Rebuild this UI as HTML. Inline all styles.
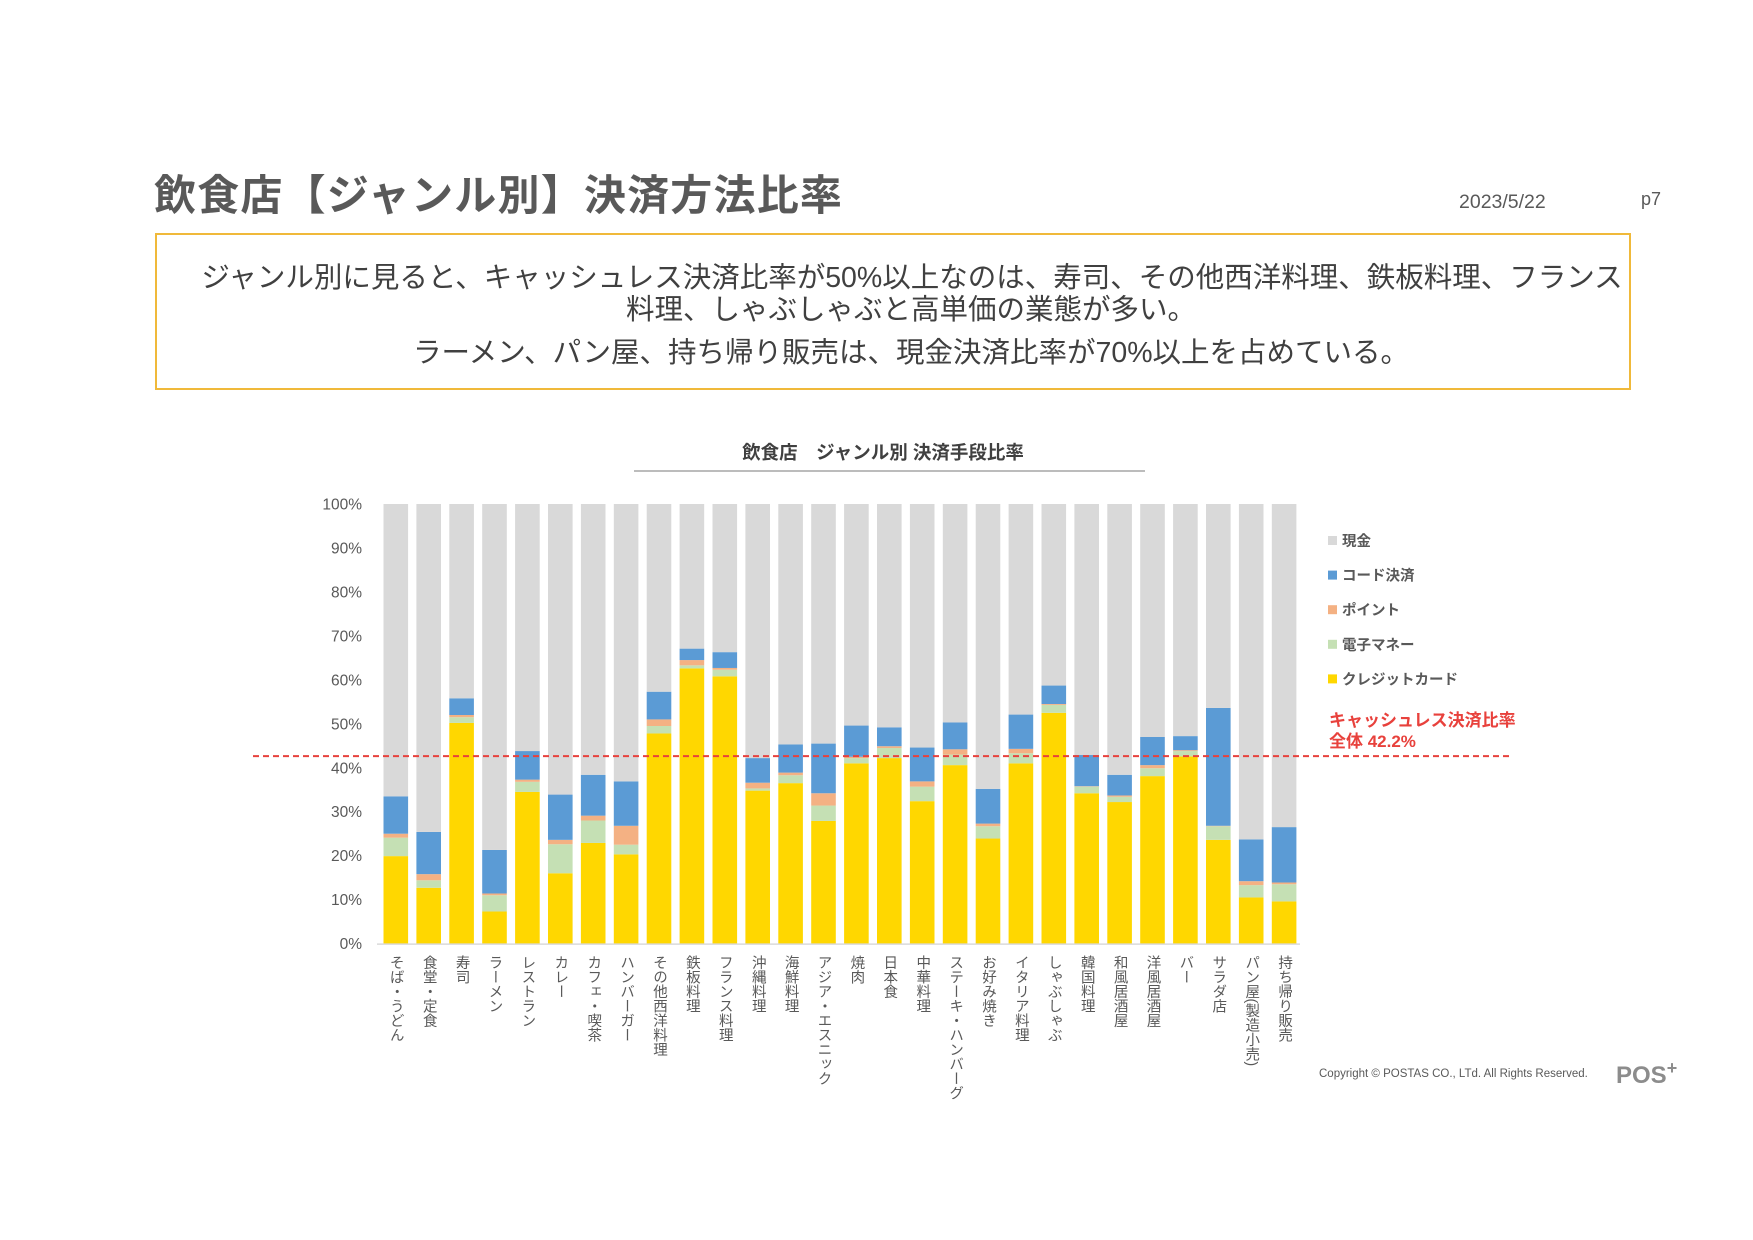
<!DOCTYPE html>
<html lang="ja"><head><meta charset="utf-8">
<style>
html,body{margin:0;padding:0;background:#fff;}
body{width:1753px;height:1240px;position:relative;overflow:hidden;font-family:"Liberation Sans","Noto Sans CJK JP",sans-serif;}
.abs{position:absolute;}
#title{left:154px;top:162px;font-size:42px;font-weight:bold;color:#595959;white-space:nowrap;letter-spacing:1.2px;}
#date{left:1459px;top:191px;font-size:19.5px;color:#595959;}
#page{left:1641px;top:189px;font-size:18px;color:#595959;}
#box{left:155px;top:233px;width:1472px;height:153px;border:2.5px solid #F0B93A;}
.line{position:absolute;left:0;width:1472px;text-align:center;font-size:28.5px;color:#404040;white-space:nowrap;}
#copy{left:1319px;top:1068px;font-size:11.5px;color:#595959;}
#logo{left:1616px;top:1058px;font-size:24px;font-weight:bold;color:#8c8c8c;}
</style></head>
<body>
<div id="title" class="abs">飲食店【ジャンル別】決済方法比率</div>
<div id="date" class="abs">2023/5/22</div>
<div id="page" class="abs">p7</div>
<div id="box" class="abs">
 <div class="line" style="left:35px;width:1440px;top:20px;">ジャンル別に見ると、キャッシュレス決済比率が50%以上なのは、寿司、その他西洋料理、鉄板料理、フランス</div>
 <div class="line" style="left:18px;top:52px;">料理、しゃぶしゃぶと高単価の業態が多い。</div>
 <div class="line" style="left:18px;top:95px;">ラーメン、パン屋、持ち帰り販売は、現金決済比率が70%以上を占めている。</div>
</div>
<svg id="chart" class="abs" style="left:0;top:0" width="1753" height="1240"></svg>
<div id="copy" class="abs">Copyright © POSTAS CO., LTd. All Rights Reserved.</div>
<div id="logo" class="abs">POS<sup style="font-size:18px">+</sup></div>
<script>
const categories=["そば・うどん","食堂・定食","寿司","ラーメン","レストラン","カレー","カフェ・喫茶","ハンバーガー","その他西洋料理","鉄板料理","フランス料理","沖縄料理","海鮮料理","アジア・エスニック","焼肉","日本食","中華料理","ステーキ・ハンバーグ","お好み焼き","イタリア料理","しゃぶしゃぶ","韓国料理","和風居酒屋","洋風居酒屋","バー","サラダ店","パン屋(製造小売)","持ち帰り販売"];
const credit=[19.9,12.7,50.2,7.3,34.5,16.0,22.9,20.3,47.8,62.6,60.8,34.8,36.5,27.9,41.0,42.2,32.4,40.6,23.9,41.0,52.5,34.2,32.2,38.1,42.6,23.6,10.5,9.6];
const emoney=[4.2,1.7,1.3,3.7,2.3,6.6,5.1,2.2,1.7,0.7,1.5,0.5,1.8,3.5,1.2,2.3,3.3,2.4,2.8,2.3,1.8,1.5,1.2,1.8,1.2,3.1,2.8,3.9];
const point=[0.9,1.4,0.5,0.4,0.5,1.0,1.1,4.3,1.5,1.2,0.4,1.3,0.6,2.8,0.3,0.4,1.2,1.2,0.6,1.0,0.2,0.1,0.3,0.7,0.2,0.1,0.9,0.4];
const code=[8.5,9.6,3.8,9.9,6.5,10.3,9.3,10.1,6.3,2.6,3.6,5.6,6.4,11.3,7.1,4.3,7.7,6.1,7.9,7.8,4.2,7.1,4.7,6.4,3.2,26.8,9.5,12.6];
const yTicks=[0,10,20,30,40,50,60,70,80,90,100];
const seriesNames=["現金","コード決済","ポイント","電子マネー","クレジットカード"];
const overall=42.2;
const NS="http://www.w3.org/2000/svg";
const svg=document.getElementById('chart');
const X0=383.5,STEP=32.9,BW=24.6,Y0=943.6,Y100=504;
const y=v=>Y0-(v/100)*(Y0-Y100);
const x=i=>X0+i*STEP;
const colors={cash:"#D9D9D9",code:"#5B9BD5",point:"#F4B183",emoney:"#C5E0B4",credit:"#FFD700"};
function mk(tag,attrs){const e=document.createElementNS(NS,tag);for(const k in attrs)e.setAttribute(k,attrs[k]);svg.appendChild(e);return e;}
const FF='"Liberation Sans","Noto Sans CJK JP",sans-serif';
let t=mk('text',{x:883,y:459,'text-anchor':'middle','font-size':18.5,'font-weight':'bold',fill:'#404040','font-family':FF});
t.textContent="飲食店　ジャンル別 決済手段比率";


let ul=mk('line',{x1:634,x2:1145,y1:471,y2:471,stroke:'#a6a6a6','stroke-width':1.5});


yTicks.forEach(v=>{
 const tx=mk('text',{x:362,y:y(v)+5.5,'text-anchor':'end','font-size':15.5,fill:'#595959','font-family':FF});
 tx.textContent=v+"%";
 
 
});
categories.forEach((c,i)=>{
 const segs=[["credit",0,credit[i]],["emoney",credit[i],emoney[i]],["point",credit[i]+emoney[i],point[i]],["code",credit[i]+emoney[i]+point[i],code[i]]];
 const cum=credit[i]+emoney[i]+point[i]+code[i];
 segs.push(["cash",cum,100-cum]);
 segs.forEach(s=>{
  const r=mk('rect',{x:x(i),y:y(s[1]+s[2]),width:BW,height:y(s[1])-y(s[1]+s[2]),fill:colors[s[0]]});
  
  
 });
 const lb=mk('text',{x:x(i)+BW/2,y:955,'font-size':14.5,fill:'#595959','font-family':FF,style:'writing-mode:vertical-rl;glyph-orientation-vertical:0'});
 lb.textContent=c;
 
 
});
let ax=mk('line',{x1:377,x2:1300,y1:Y0+0.5,y2:Y0+0.5,stroke:'#d9d9d9','stroke-width':1.5});


let dl=mk('line',{x1:253,x2:1509,y1:y(overall)-2,y2:y(overall)-2,stroke:'#E8413C','stroke-width':2,'stroke-dasharray':'6,4'});


const legCols=[colors.cash,colors.code,colors.point,colors.emoney,colors.credit];
seriesNames.forEach((n,k)=>{
 const ly=541+k*34.6;
 const sq=mk('rect',{x:1328,y:ly-5,width:9,height:9,fill:legCols[k]});
 
 
 const lt=mk('text',{x:1342,y:ly+5,'font-size':14.5,'font-weight':'bold',fill:'#595959','font-family':FF});
 lt.textContent=n;
 
 
});
let r1=mk('text',{x:1329,y:726,'font-size':17,'font-weight':'bold',fill:'#E8413C','font-family':FF});
r1.textContent="キャッシュレス決済比率";


let r2=mk('text',{x:1329,y:747,'font-size':17,'font-weight':'bold',fill:'#E8413C','font-family':FF});
r2.textContent="全体 "+overall+"%";


</script>
</body></html>
